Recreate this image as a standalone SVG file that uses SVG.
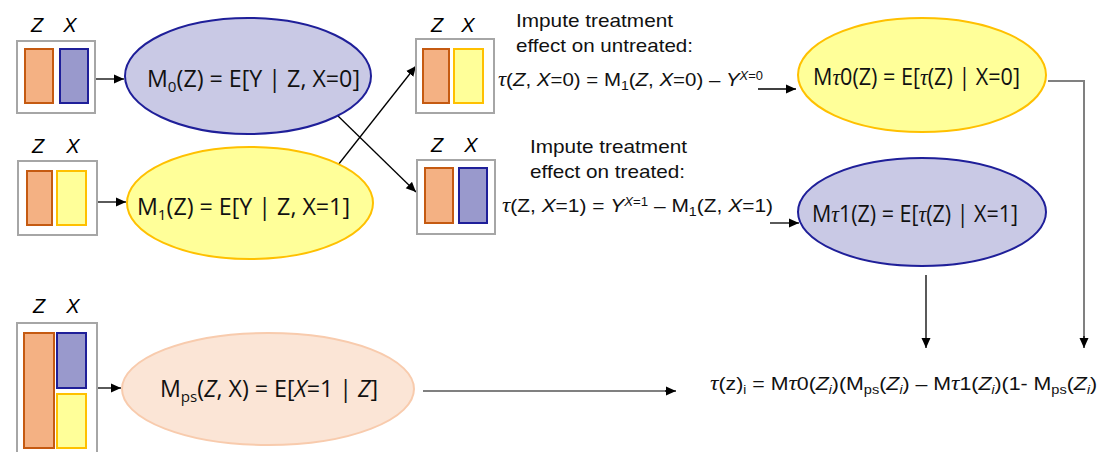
<svg xmlns="http://www.w3.org/2000/svg" width="1102" height="452" viewBox="0 0 1102 452">
<defs>
<marker id="ah" markerWidth="10" markerHeight="10" refX="10" refY="5" orient="auto" markerUnits="userSpaceOnUse">
<path d="M0,0.5 L10,5 L0,9.5 Z" fill="#000"/>
</marker>
<style>
.box{fill:#fff;stroke:#a6a6a6;stroke-width:2}
.or{fill:#f4b183;stroke:#c55a11;stroke-width:2}
.bl{fill:#9999cc;stroke:#1f1f99;stroke-width:2}
.ye{fill:#ffff99;stroke:#ffc000;stroke-width:2}
.eb{fill:#c9c9e5;stroke:#1f1f99;stroke-width:2}
.ey{fill:#ffff99;stroke:#ffc000;stroke-width:2}
.ep{fill:#fbe5d6;stroke:#f8cbad;stroke-width:2}
.lab{font-family:"Liberation Sans",Arial,sans-serif;font-style:italic;font-size:20px;fill:#000;text-anchor:middle}
.et{font-family:"Open Sans","Liberation Sans",sans-serif;font-size:23px;fill:#111}
.tx{font-family:"Liberation Sans",Arial,sans-serif;font-size:19px;fill:#111}
.tau{font-family:"Liberation Serif","Times New Roman",serif;font-style:italic}
.it{font-style:italic}
.ln{stroke:#000;stroke-width:1.3;fill:none}
.lg{stroke:#808080;stroke-width:2;fill:none}
</style>
</defs>

<g id="connectors">
<line class="ln" x1="96" y1="79" x2="124" y2="79" marker-end="url(#ah)"/>
<line class="ln" x1="98" y1="202" x2="126" y2="202" marker-end="url(#ah)"/>
<line class="ln" x1="98" y1="388" x2="121" y2="388" marker-end="url(#ah)"/>
<line class="ln" x1="337" y1="115" x2="416" y2="192" marker-end="url(#ah)"/>
<line class="ln" x1="338" y1="165" x2="416" y2="66" marker-end="url(#ah)"/>
<line class="ln" x1="758" y1="89" x2="796" y2="89" marker-end="url(#ah)"/>
<line class="ln" x1="770" y1="223" x2="799" y2="223" marker-end="url(#ah)"/>
<polyline class="lg" points="1048,81 1084,81 1084,338"/>
<line class="ln" x1="1084" y1="336" x2="1084" y2="348" marker-end="url(#ah)"/>
<line class="ln" x1="926" y1="275" x2="926" y2="348" marker-end="url(#ah)"/>
<line class="lg" x1="423" y1="391" x2="668" y2="391"/>
<line class="ln" x1="665" y1="391" x2="676" y2="391" marker-end="url(#ah)"/>
</g>

<g id="data0">
<text class="lab" x="37" y="32">Z</text><text class="lab" x="70" y="32">X</text>
<rect class="box" x="17" y="41" width="78" height="72"/>
<rect class="or" x="25" y="49" width="28" height="54"/>
<rect class="bl" x="60" y="49" width="28" height="54"/>
</g>

<g id="model0">
<ellipse class="eb" cx="248" cy="76" rx="123" ry="58"/>
<text class="et" x="147" y="87" textLength="213" lengthAdjust="spacingAndGlyphs">M<tspan font-size="15" dy="5">0</tspan><tspan dy="-5">(Z) = E[Y | Z, X=0]</tspan></text>
</g>

<g id="data1">
<text class="lab" x="38" y="153">Z</text><text class="lab" x="73" y="153">X</text>
<rect class="box" x="18" y="161" width="79" height="74"/>
<rect class="or" x="27" y="171" width="25" height="54"/>
<rect class="ye" x="57" y="171" width="29" height="54"/>
</g>

<g id="model1">
<ellipse class="ey" cx="250" cy="203" rx="123" ry="56"/>
<text class="et" x="137" y="215" textLength="213" lengthAdjust="spacingAndGlyphs">M<tspan font-size="15" dy="5">1</tspan><tspan dy="-5">(Z) = E[Y | Z, X=1]</tspan></text>
</g>

<g id="impute0">
<text class="lab" x="437" y="32">Z</text><text class="lab" x="468" y="32">X</text>
<rect class="box" x="416" y="39" width="78" height="74"/>
<rect class="or" x="423" y="49" width="26" height="54"/>
<rect class="ye" x="454" y="49" width="29" height="54"/>
<text class="tx" x="516" y="27" textLength="157" lengthAdjust="spacingAndGlyphs">Impute treatment</text>
<text class="tx" x="516" y="52" textLength="177" lengthAdjust="spacingAndGlyphs">effect on untreated:</text>
<text class="tx" x="498" y="86" textLength="265" lengthAdjust="spacingAndGlyphs"><tspan class="tau" font-size="21">τ</tspan>(<tspan class="it">Z</tspan>, <tspan class="it">X</tspan>=0) = M<tspan font-size="13" dy="4">1</tspan><tspan dy="-4">(</tspan><tspan class="it">Z</tspan>, <tspan class="it">X</tspan>=0) – <tspan class="it">Y</tspan><tspan class="it" font-size="12" dy="-6">X</tspan><tspan font-size="12">=0</tspan></text>
</g>

<g id="impute1">
<text class="lab" x="437" y="152">Z</text><text class="lab" x="471" y="152">X</text>
<rect class="box" x="417" y="160" width="78" height="74"/>
<rect class="or" x="425" y="168" width="28" height="55"/>
<rect class="bl" x="459" y="168" width="28" height="55"/>
<text class="tx" x="530" y="153" textLength="157" lengthAdjust="spacingAndGlyphs">Impute treatment</text>
<text class="tx" x="530" y="178" textLength="155" lengthAdjust="spacingAndGlyphs">effect on treated:</text>
<text class="tx" x="502" y="212" textLength="271" lengthAdjust="spacingAndGlyphs"><tspan class="tau" font-size="21">τ</tspan>(Z, <tspan class="it">X</tspan>=1) = <tspan class="it">Y</tspan><tspan class="it" font-size="12" dy="-6">X</tspan><tspan font-size="12">=1</tspan><tspan dy="6"> – M</tspan><tspan font-size="13" dy="4">1</tspan><tspan dy="-4">(Z, </tspan><tspan class="it">X</tspan>=1)</text>
</g>

<g id="cate0">
<ellipse class="ey" cx="922" cy="75" rx="124" ry="57"/>
<text class="et" x="813" y="85" textLength="207" lengthAdjust="spacingAndGlyphs">M<tspan class="tau">τ</tspan>0(Z) = E[<tspan class="tau">τ</tspan>(Z) | X=0]</text>
</g>

<g id="cate1">
<ellipse class="eb" cx="922" cy="212" rx="124" ry="54"/>
<text class="et" x="812" y="222" textLength="206" lengthAdjust="spacingAndGlyphs">M<tspan class="tau">τ</tspan>1(Z) = E[<tspan class="tau">τ</tspan>(Z) | X=1]</text>
</g>

<g id="data_ps">
<text class="lab" x="39" y="313">Z</text><text class="lab" x="73" y="313">X</text>
<rect class="box" x="17" y="323" width="80" height="140"/>
<rect class="or" x="24" y="333" width="30" height="115"/>
<rect class="bl" x="57" y="333" width="29" height="55"/>
<rect class="ye" x="57" y="394" width="29" height="54"/>
</g>

<g id="model_ps">
<ellipse class="ep" cx="268" cy="389" rx="146" ry="56"/>
<text class="et" x="160" y="397" textLength="218" lengthAdjust="spacingAndGlyphs">M<tspan font-size="15" dy="5">ps</tspan><tspan dy="-5">(</tspan><tspan class="it">Z</tspan>, X) = E[<tspan class="it">X</tspan>=1 | <tspan class="it">Z</tspan>]</text>
</g>

<g id="result">
<text class="tx" x="710" y="390" textLength="387" lengthAdjust="spacingAndGlyphs"><tspan class="tau" font-size="21">τ</tspan>(z)<tspan font-size="12" dy="4">i</tspan><tspan dy="-4"> = M</tspan><tspan class="tau" font-size="21">τ</tspan>0(<tspan class="it">Z</tspan><tspan class="it" font-size="12" dy="4">i</tspan><tspan dy="-4">)(M</tspan><tspan font-size="13" dy="4">ps</tspan><tspan dy="-4">(</tspan><tspan class="it">Z</tspan><tspan class="it" font-size="12" dy="4">i</tspan><tspan dy="-4">) – M</tspan><tspan class="tau" font-size="21">τ</tspan>1(<tspan class="it">Z</tspan><tspan class="it" font-size="12" dy="4">i</tspan><tspan dy="-4">)(1- M</tspan><tspan font-size="13" dy="4">ps</tspan><tspan dy="-4">(</tspan><tspan class="it">Z</tspan><tspan class="it" font-size="12" dy="4">i</tspan><tspan dy="-4">)</tspan></text>
</g>
</svg>
